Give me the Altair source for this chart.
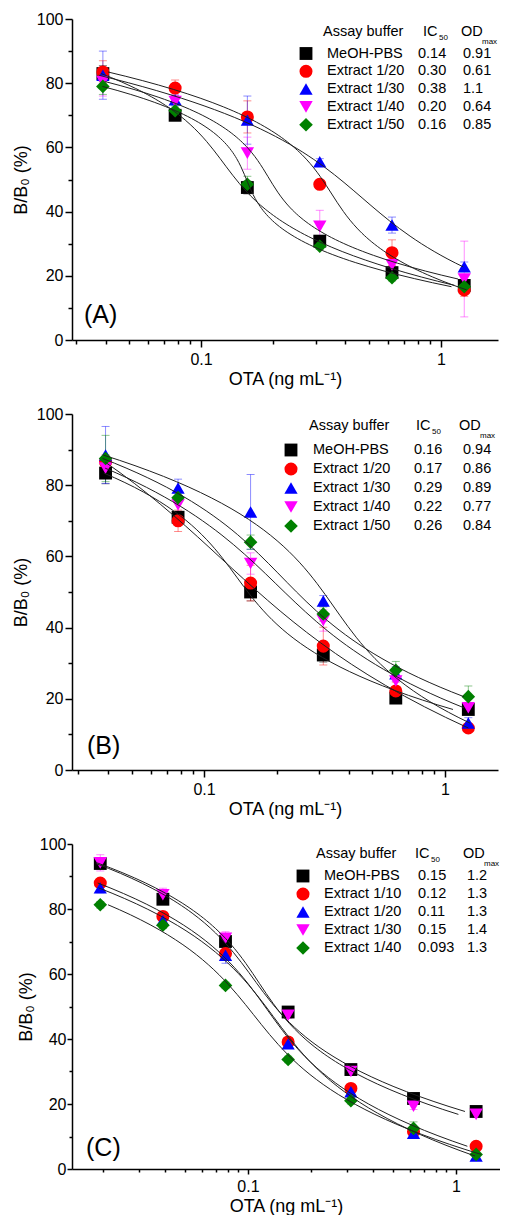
import altair as alt
import pandas as pd

# ---------------- data ----------------
conc_ab = [0.039, 0.078, 0.156, 0.3125, 0.625, 1.25]
conc_c = [0.0195, 0.039, 0.078, 0.156, 0.3125, 0.625, 1.25]

names_ab = ["MeOH-PBS", "Extract 1/20", "Extract 1/30", "Extract 1/40", "Extract 1/50"]
names_c = ["MeOH-PBS", "Extract 1/10", "Extract 1/20", "Extract 1/30", "Extract 1/40"]

# Panel A  (B/B0 %)
a_meoh = [83.0, 70.0, 47.5, 30.8, 21.0, 17.0]
a_e20 = [83.5, 78.5, 69.5, 48.5, 27.2, 15.6]
a_e30 = [82.5, 74.8, 68.5, 55.5, 35.8, 22.8]
a_e40 = [80.5, 74.3, 58.2, 35.4, 23.4, 19.0]
a_e50 = [79.0, 71.4, 48.5, 29.2, 19.4, 16.6]
a_meoh_sd = [2.5, 1.5, 2.0, 1.5, 1.5, 1.0]
a_e20_sd = [3.5, 2.5, 5.0, 1.0, 4.0, 2.0]
a_e30_sd = [7.5, 1.5, 7.5, 1.0, 2.5, 1.5]
a_e40_sd = [4.5, 2.0, 5.0, 5.0, 2.0, 11.8]
a_e50_sd = [2.5, 1.5, 2.5, 1.0, 1.0, 1.0]
a_ic50 = ["0.14", "0.30", "0.38", "0.20", "0.16"]
a_odmax = ["0.91", "0.61", "1.1", "0.64", "0.85"]

# Panel B
b_meoh = [83.4, 71.0, 50.0, 32.3, 20.2, 17.0]
b_e20 = [86.5, 70.0, 52.5, 34.8, 22.2, 11.8]
b_e30 = [88.5, 79.2, 72.5, 47.5, 27.0, 13.2]
b_e40 = [84.8, 74.5, 58.0, 42.0, 25.0, 17.5]
b_e50 = [87.5, 76.5, 64.0, 43.8, 28.0, 20.6]
b_meoh_sd = [3.0, 1.5, 2.5, 2.0, 1.5, 1.0]
b_e20_sd = [2.0, 3.0, 5.0, 5.3, 2.5, 1.0]
b_e30_sd = [8.0, 2.5, 10.5, 1.5, 2.0, 1.5]
b_e40_sd = [2.0, 2.0, 3.0, 3.0, 2.0, 1.5]
b_e50_sd = [6.5, 1.5, 2.0, 2.0, 2.5, 3.0]
b_ic50 = ["0.16", "0.17", "0.29", "0.22", "0.26"]
b_odmax = ["0.94", "0.86", "0.89", "0.77", "0.84"]

# Panel C
c_meoh = [94.0, 83.0, 70.0, 48.3, 30.6, 21.7, 17.7]
c_e10 = [88.0, 77.7, 66.3, 39.1, 24.8, 11.5, 7.0]
c_e20 = [86.5, 76.5, 65.8, 38.5, 23.8, 11.0, 4.0]
c_e30 = [94.2, 84.4, 71.0, 47.3, 30.0, 19.3, 16.8]
c_e40 = [81.3, 75.0, 56.5, 33.7, 21.0, 12.5, 4.5]
c_meoh_sd = [1.0, 1.0, 1.0, 1.0, 1.0, 1.0, 1.0]
c_e10_sd = [1.0, 1.0, 1.0, 1.0, 1.0, 1.0, 1.0]
c_e20_sd = [1.5, 1.5, 2.5, 1.0, 1.0, 1.0, 1.0]
c_e30_sd = [2.5, 2.0, 2.0, 1.0, 1.0, 1.0, 1.0]
c_e40_sd = [1.0, 1.0, 1.0, 1.0, 1.0, 2.0, 1.0]
c_ic50 = ["0.15", "0.12", "0.11", "0.15", "0.093"]
c_odmax = ["1.2", "1.3", "1.3", "1.4", "1.3"]

# ---------------- styles ----------------
FONT = "Liberation Sans"
COLORS = ["#000000", "#FF0000", "#0000FF", "#FF00FF", "#008000"]
SHAPES = ["square", "circle", "triangle-up", "triangle-down", "diamond"]
SIZES = [165, 185, 270, 270, 225]
KDOM = [0, 1, 2, 3, 4]

color_enc = alt.Color("k:N", scale=alt.Scale(domain=KDOM, range=COLORS), legend=None)
shape_enc = alt.Shape("k:N", scale=alt.Scale(domain=KDOM, range=SHAPES), legend=None)
size_enc = alt.Size("k:N", scale=alt.Scale(domain=KDOM, range=SIZES), legend=None)

XTICKS_AB = [0.03, 0.04, 0.05, 0.06, 0.07, 0.08, 0.09, 0.1,
             0.2, 0.3, 0.4, 0.5, 0.6, 0.7, 0.8, 0.9, 1]
XTICKS_C = [0.02] + XTICKS_AB
YTICKS = [0, 10, 20, 30, 40, 50, 60, 70, 80, 90, 100]


def panel(conc, vals, sds, names, ic50, odmax, letter, lay):
    rows = []
    for k, (v, s) in enumerate(zip(vals, sds)):
        for x, y, e in zip(conc, v, s):
            rows.append({"k": k, "x": x, "y": y, "lo": y - e, "hi": y + e})
    df = pd.DataFrame(rows)

    tmaj, tmin = lay["tmaj"], lay["tmin"]
    xaxis = alt.Axis(
        values=lay["xticks"], title="OTA (ng mL\u207b\u00b9)",
        labelExpr="datum.value == 0.1 ? '0.1' : (datum.value == 1 ? '1' : '')",
        labelOverlap=False, labelFlush=False, grid=False,
        tickSize={"expr": f"datum.value == 0.1 || datum.value == 1 ? {tmaj} : {tmin}"},
        labelPadding=lay["xlp"], titlePadding=lay["xtp"],
        labelFont=FONT, labelFontSize=16, titleFont=FONT, titleFontSize=18,
    )
    yaxis = alt.Axis(
        values=YTICKS, title="B/B\u2080 (%)",
        labelExpr="datum.value % 20 == 0 ? datum.label : ''",
        labelOverlap=False, grid=False,
        tickSize={"expr": f"datum.value % 20 == 0 ? {tmaj} : {tmin}"},
        labelPadding=lay["ylp"], titlePadding=lay["ytp"],
        labelFont=FONT, labelFontSize=16, titleFont=FONT, titleFontSize=18,
    )
    xs = alt.Scale(type="log", domain=lay["xdom"], nice=False)
    ys = alt.Scale(domain=[0, 100], nice=False, zero=False)

    def X(f):
        return alt.X(f, type="quantitative", scale=xs, axis=xaxis)

    def Y(f):
        return alt.Y(f, type="quantitative", scale=ys, axis=yaxis)

    base = alt.Chart(df)

    err = base.mark_rule(strokeWidth=1, opacity=0.45).encode(
        x=X("x"), y=Y("lo"), y2="hi:Q", color=color_enc)
    caps = base.transform_fold(["lo", "hi"], as_=["which", "v"]).mark_tick(
        orient="horizontal", size=8, thickness=1, opacity=0.45).encode(
        x=X("x"), y=Y("v"), color=color_enc)
    pts = base.mark_point(filled=True, opacity=1).encode(
        x=X("x"), y=Y("y"), color=color_enc, shape=shape_enc, size=size_enc)
    curves = base.transform_calculate(
        lx="log(datum.x) / LN10"
    ).transform_regression(
        "y", "lx", method="poly", order=3, groupby=["k"]
    ).transform_calculate(
        x="pow(10, datum.lx)"
    ).mark_line(color="#202020", strokeWidth=1).encode(
        x=X("x"), y=Y("y"), detail="k:N")

    dx = lay["dx"]
    leg = pd.DataFrame({"k": KDOM, "name": names, "ic": ic50, "od": odmax})
    lbase = alt.Chart(leg).transform_calculate(
        py=f"{lay['y0']} + datum.k * {lay['dy']}")
    LY = alt.Y("py:Q", scale=None, axis=None)

    def col_text(field, px, size=14.5):
        return lbase.transform_calculate(px=str(px + dx)).mark_text(
            align="left", baseline="middle", font=FONT, fontSize=size, color="black"
        ).encode(x=alt.X("px:Q", scale=None, axis=None), y=LY, text=field + ":N")

    lsym = lbase.transform_calculate(px=str(lay["sx"] + dx)).mark_point(
        filled=True, opacity=1).encode(
        x=alt.X("px:Q", scale=None, axis=None), y=LY,
        color=color_enc, shape=shape_enc, size=size_enc)

    def hdr(t, px, py, size):
        return alt.Chart(pd.DataFrame({"t": [t]})).mark_text(
            align="left", baseline="middle", font=FONT, fontSize=size, color="black"
        ).encode(x=alt.value(px), y=alt.value(py), text="t:N")

    hy = lay["hy"]
    layers = [
        err, caps, pts, curves, lsym,
        col_text("name", lay["nx"]), col_text("ic", lay["icx"]), col_text("od", lay["odx"]),
        hdr("Assay buffer", lay["hx"] + dx, hy, 14.5),
        hdr("IC", lay["ichx"] + dx, hy, 14.5),
        hdr("50", lay["ichx"] + dx + 16, hy + 6, 8),
        hdr("OD", lay["odhx"] + dx, hy, 14.5),
        hdr("max", lay["odhx"] + dx + 21, hy + 10, 8),
        hdr(letter, lay["lx"], lay["ly"], 25),
    ]
    return alt.layer(*layers).properties(width=lay["w"], height=lay["h"])


lay_a = dict(xdom=[0.0290, 1.728], w=426, h=321, xticks=XTICKS_AB, tmaj=7, tmin=4,
             xlp=4, xtp=3, ylp=2, ytp=6, dx=-4,
             sx=238, nx=259, icx=350, odx=395, hx=255, ichx=355, odhx=393,
             y0=34.5, dy=17.8, hy=12.7, lx=12, ly=296)
lay_b = dict(xdom=[0.0283, 1.66], w=426, h=356, xticks=XTICKS_AB, tmaj=7, tmin=4,
             xlp=4, xtp=3, ylp=2, ytp=6, dx=2,
             sx=217, nx=239, icx=340, odx=389, hx=235, ichx=342, odhx=385,
             y0=36, dy=19, hy=12, lx=15, ly=332)
lay_c = dict(xdom=[0.01426, 1.628], w=428, h=325, xticks=XTICKS_C, tmaj=5, tmin=3,
             xlp=4, xtp=3, ylp=1, ytp=4, dx=-9,
             sx=240, nx=261, icx=355, odx=404, hx=253, ichx=352, odhx=400,
             y0=32, dy=18, hy=10, lx=14, ly=304)

pA = panel(conc_ab, [a_meoh, a_e20, a_e30, a_e40, a_e50],
           [a_meoh_sd, a_e20_sd, a_e30_sd, a_e40_sd, a_e50_sd],
           names_ab, a_ic50, a_odmax, "(A)", lay_a)
pB = panel(conc_ab, [b_meoh, b_e20, b_e30, b_e40, b_e50],
           [b_meoh_sd, b_e20_sd, b_e30_sd, b_e40_sd, b_e50_sd],
           names_ab, b_ic50, b_odmax, "(B)", lay_b)
pC = panel(conc_c, [c_meoh, c_e10, c_e20, c_e30, c_e40],
           [c_meoh_sd, c_e10_sd, c_e20_sd, c_e30_sd, c_e40_sd],
           names_c, c_ic50, c_odmax, "(C)", lay_c)

chart = alt.concat(pA, pB, pC, columns=1, spacing=18, align="none").properties(
    padding={"left": 4, "top": 3, "right": 0, "bottom": 0},
    background="white",
).configure_view(stroke=None).configure_axis(
    domainColor="black", domainWidth=1.5, tickColor="black", tickWidth=1.5,
    labelColor="black", titleFontWeight="normal", titleColor="black",
)

chart.save("out.html", embed_options={"renderer": "svg", "actions": False})
